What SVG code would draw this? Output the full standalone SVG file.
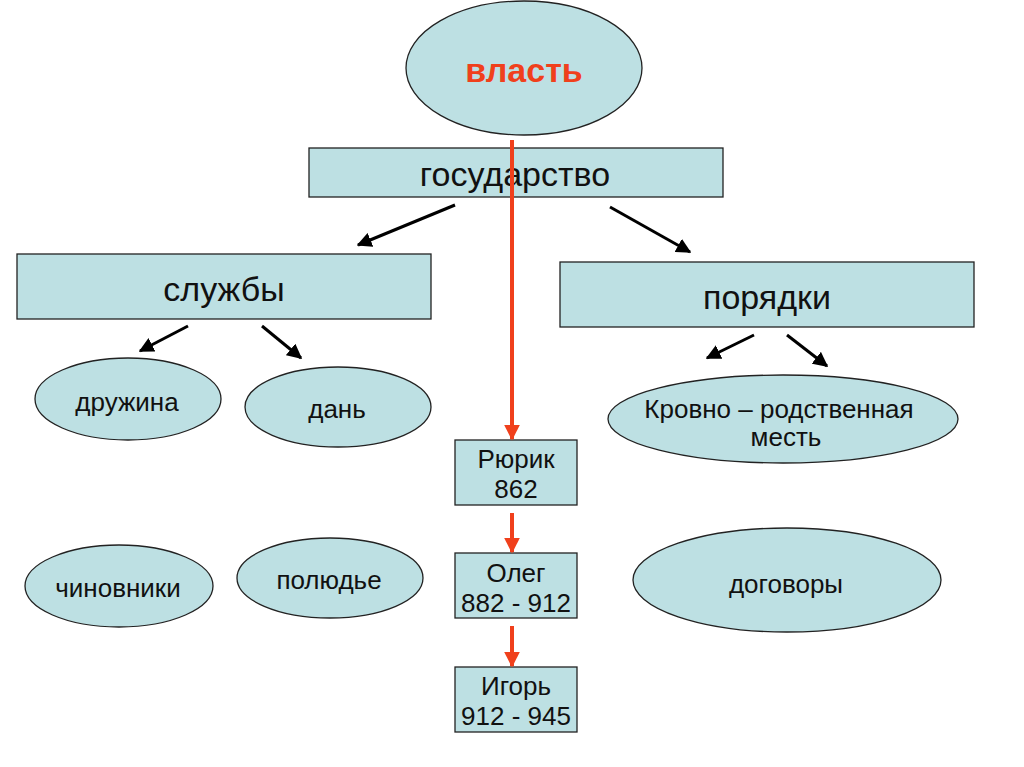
<svg xmlns="http://www.w3.org/2000/svg" width="1024" height="767" viewBox="0 0 1024 767">
<defs>
<marker id="ab" markerWidth="5" markerHeight="5" refX="4.5" refY="2.5" orient="auto" markerUnits="strokeWidth"><path d="M0,0 L5,2.5 L0,5 z" fill="#000"/></marker>
<marker id="ar" markerWidth="4" markerHeight="4" refX="3.6" refY="2" orient="auto" markerUnits="strokeWidth"><path d="M0,0 L4,2 L0,4 z" fill="#F0401C"/></marker>
</defs>
<style>
.n{fill:#BDE0E3;stroke:#222;stroke-width:1.3}
.t{font-family:"Liberation Sans",Arial,sans-serif;fill:#111;text-anchor:middle}
.big{font-size:34px}
.mid{font-size:26px}
.k{stroke:#000;stroke-width:3;fill:none;marker-end:url(#ab)}
.r{stroke:#F0401C;stroke-width:4;fill:none;marker-end:url(#ar)}
</style>
<rect width="1024" height="767" fill="#fff"/>
<g id="vlast"><ellipse class="n" cx="524" cy="68" rx="118" ry="67"/><text class="t" x="524" y="82" font-size="34" font-weight="bold" style="fill:#F0401C">власть</text></g>
<g id="gosudarstvo"><rect class="n" x="309" y="148" width="414" height="49"/><text class="t big" x="515" y="186">государство</text></g>
<g id="sluzhby"><rect class="n" x="17" y="254" width="414" height="65"/><text class="t big" x="224" y="301">службы</text></g>
<g id="poryadki"><rect class="n" x="560" y="262" width="414" height="65"/><text class="t big" x="767" y="309">порядки</text></g>
<g id="druzhina"><ellipse class="n" cx="128" cy="399" rx="93" ry="41"/><text class="t mid" x="127" y="411">дружина</text></g>
<g id="dan"><ellipse class="n" cx="338" cy="407" rx="93" ry="40"/><text class="t mid" x="337" y="418">дань</text></g>
<g id="krovno"><ellipse class="n" cx="783" cy="419" rx="175" ry="44"/><text class="t mid" x="779" y="418">Кровно – родственная</text><text class="t mid" x="786" y="446">месть</text></g>
<g id="chinovniki"><ellipse class="n" cx="119" cy="586" rx="94" ry="41"/><text class="t mid" x="118" y="597">чиновники</text></g>
<g id="polyudye"><ellipse class="n" cx="330" cy="578" rx="93" ry="40"/><text class="t mid" x="329" y="589">полюдье</text></g>
<g id="dogovory"><ellipse class="n" cx="787" cy="580" rx="154" ry="52"/><text class="t mid" x="786" y="593">договоры</text></g>
<g id="ryurik"><rect class="n" x="455" y="440" width="122" height="65"/><text class="t mid" x="516" y="468">Рюрик</text><text class="t mid" x="516" y="498">862</text></g>
<g id="oleg"><rect class="n" x="455" y="553" width="122" height="65"/><text class="t mid" x="516" y="582">Олег</text><text class="t mid" x="516" y="612">882 - 912</text></g>
<g id="igor"><rect class="n" x="455" y="667" width="122" height="65"/><text class="t mid" x="516" y="695">Игорь</text><text class="t mid" x="516" y="725">912 - 945</text></g>
<g id="connectors">
<line class="r" x1="512" y1="140" x2="512" y2="439"/>
<line class="r" x1="512" y1="513" x2="512" y2="552"/>
<line class="r" x1="512" y1="626" x2="512" y2="666"/>
<line class="k" x1="455" y1="205" x2="358" y2="245"/>
<line class="k" x1="610" y1="207" x2="690" y2="252"/>
<line class="k" x1="188" y1="326" x2="140" y2="351"/>
<line class="k" x1="262" y1="326" x2="301" y2="358"/>
<line class="k" x1="754" y1="335" x2="707" y2="358"/>
<line class="k" x1="787" y1="335" x2="827" y2="366"/>
</g>
</svg>
